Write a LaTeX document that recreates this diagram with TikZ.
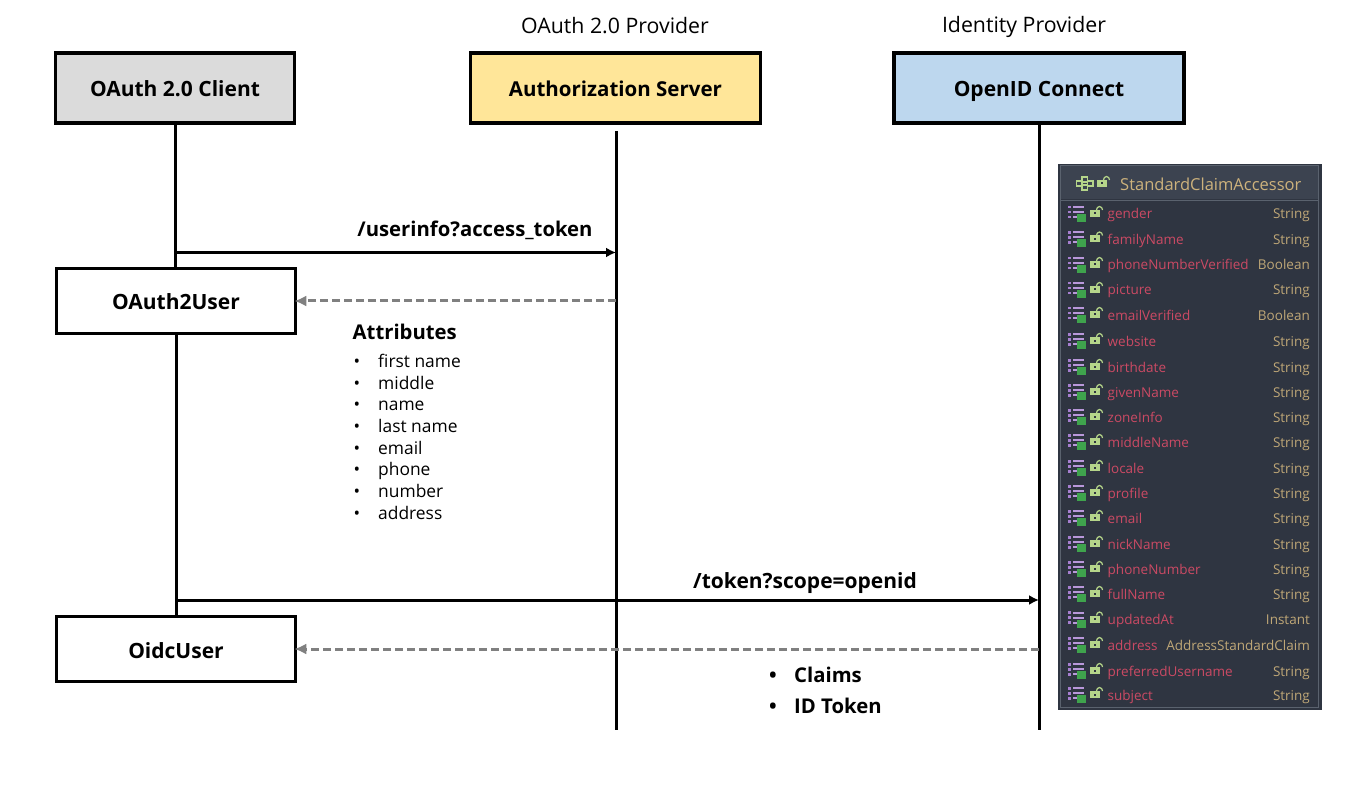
\documentclass[tikz,border=0pt]{standalone}
\usepackage{fontspec}
\setmainfont{Open Sans}
\usetikzlibrary{arrows.meta}
\definecolor{clientfill}{HTML}{DBDBDB}
\definecolor{serverfill}{HTML}{FFE699}
\definecolor{oidcfill}{HTML}{BDD7EE}
\definecolor{panelbg}{HTML}{2F3541}
\definecolor{panelhead}{HTML}{3C4350}
\definecolor{panelline}{HTML}{5A626E}
\definecolor{fieldred}{HTML}{CB4A64}
\definecolor{typetan}{HTML}{BFA777}
\definecolor{headtan}{HTML}{CDB27C}
\definecolor{lockgreen}{HTML}{B5D58A}
\definecolor{listpurple}{HTML}{A77FD0}
\definecolor{listgreen}{HTML}{3FA34D}
\tikzset{
  x=1pt,y=-1pt,
  box/.style={draw=black,line width=3.5pt,minimum height=#1,inner sep=0pt,text height=23pt,text depth=5pt,font=\fontsize{21}{27}\selectfont\bfseries,text=black},
  box/.default=70pt,
  lifeline/.style={draw=black,line width=3pt},
  callarrow/.style={draw=black,line width=3pt,-{Latex[length=10pt,width=10pt]}},
  replyarrow/.style={draw=black!50,line width=3pt,dash pattern=on 8pt off 4pt,shorten >=-3pt,-{Latex[length=12pt,width=11pt]}},
  caption/.style={font=\fontsize{21.3}{25}\selectfont,inner sep=0pt,text height=16pt,text depth=5pt},
  msg/.style={font=\fontsize{20.3}{26}\selectfont\bfseries,inner sep=0pt,text height=16pt,text depth=5pt},
  item/.style={font=\fontsize{17.4}{22}\selectfont,inner sep=0pt,anchor=west,text height=14pt,text depth=4pt},
  dotitem/.style={font=\fontsize{17.4}{22}\selectfont,inner sep=0pt,text height=14pt,text depth=4pt},
  field/.style={font=\fontsize{13.5}{16}\selectfont,text=fieldred,inner sep=0pt,anchor=west,text height=10pt,text depth=3pt},
  ftype/.style={font=\fontsize{13.5}{16}\selectfont,text=typetan,inner sep=0pt,anchor=east,text height=10pt,text depth=3pt},
}
\newcommand{\lockicon}[2]{%
  \fill[lockgreen] (#1-5.5,#2-1) rectangle (#1+4,#2+6);
  \draw[lockgreen,line width=1.2pt] (#1+1,#2-1) arc[start angle=180,end angle=0,x radius=3,y radius=-3.5];
  \fill[panelbg] (#1-1.5,#2+1.5) rectangle (#1,#2+3.5);
}
\newcommand{\listicon}[2]{%
  \foreach \d in {-6,-1,4}{
    \fill[listpurple] (#1-9,#2+\d-1.2) rectangle (#1-6,#2+\d+1.5);
    \fill[listpurple!80!white] (#1-4.5,#2+\d-1) rectangle (#1+7,#2+\d+1);
  }
  \fill[listgreen] (#1,#2+1) rectangle (#1+9,#2+9);
}
\begin{document}
\begin{tikzpicture}
\useasboundingbox (0,0) rectangle (1360,802);
% boxes
\node[box,fill=clientfill,minimum width=239pt] (client) at (175,88) {OAuth 2.0 Client};
\node[box,fill=serverfill,minimum width=290pt,font=\fontsize{20.5}{27}\selectfont\bfseries] (server) at (615.5,88) {Authorization Server};
\node[box,fill=oidcfill,minimum width=290pt] (oidc) at (1039,88) {OpenID Connect};
\node[box=65pt,fill=white,minimum width=239pt] (ouser) at (176,301) {OAuth2User};
\node[box=65pt,fill=white,minimum width=239pt] (oidcuser) at (176,649) {OidcUser};
% captions
\node[caption] (cap1) at (615,28) {OAuth 2.0 Provider};
\node[caption] (cap2) at (1024,27) {Identity Provider};
% lifeline ends
\coordinate (sTop) at (616,131);
\coordinate (sEnd) at (616,730);
\coordinate (oEnd) at (1039,730);
\coordinate (c1) at (175,252.5);
\coordinate (s1) at (616,252.5);
\coordinate (c2) at (176,600);
\coordinate (o2) at (1039,600);
\coordinate (s3) at (616,301);
\coordinate (o3) at (1039,649);
\path[lifeline] (client.south) -- (ouser.north -| client.south);
\path[lifeline] (ouser.south) -- (oidcuser.north);
\path[lifeline] (sTop) -- (sEnd);
\path[lifeline] (oidc.south) -- (oEnd);
% messages
\path[callarrow] (c1) -- (s1);
\path[replyarrow] (s3) -- (ouser.east);
\path[callarrow] (c2) -- (o2);
\path[replyarrow] (o3) -- (oidcuser.east);
\node[msg] (m1) at (475,231) {/userinfo?access\_token};
\node[msg,font=\fontsize{21}{26}\selectfont\bfseries] (m2) at (805,583) {/token?scope=openid};
% attributes
\node[msg,anchor=west] (attr) at (352.5,334) {Attributes};
\foreach \t/\y in {first name/362.5,middle/384,name/405.5,last name/427.5,email/449.5,phone/470.5,number/492.5,address/514.5}{
  \node[item] at (378,\y) {\t};
  \node[dotitem] at (357,\y) {•};
}
\node[msg,anchor=west] (cl) at (794,677) {Claims};
\node[msg,anchor=west] (idt) at (794,708) {ID Token};
\node[msg] at (773,677) {•};
\node[msg] at (773,708) {•};
% panel
\fill[panelbg] (1058,164) rectangle (1322,710);
\draw[panelline,line width=1pt] (1060.5,166) rectangle (1318.5,707.5);
\fill[panelhead] (1061,166.5) rectangle (1318,199.5);
\draw[panelline,line width=.8pt] (1061,200) -- (1318,200);
\draw[lockgreen,line width=1.3pt] (1076.5,181) rectangle (1082,186);
\draw[lockgreen,line width=1.3pt] (1082,177) rectangle (1087.5,182);
\draw[lockgreen,line width=1.3pt] (1087.5,181) rectangle (1093,186);
\draw[lockgreen,line width=1.3pt] (1082,185) rectangle (1087.5,190);
\lockicon{1102.5}{181}
\node[font=\fontsize{16.5}{20}\selectfont,text=headtan,inner sep=0pt,anchor=west,text height=12pt,text depth=4pt] (pt) at (1120,186.5) {StandardClaimAccessor};
\foreach \n/\t/\y in {gender/String/214,familyName/String/239.5,phoneNumberVerified/Boolean/265,picture/String/290,emailVerified/Boolean/315,website/String/341,birthdate/String/367,givenName/String/392,zoneInfo/String/417,middleName/String/442,locale/String/468,profile/String/493,email/String/518,nickName/String/544,phoneNumber/String/569,fullName/String/594,updatedAt/Instant/619.5,address/AddressStandardClaim/645,preferredUsername/String/671,subject/String/695}{
  \listicon{1077}{\y-1}
  \lockicon{1095.5}{\y-3}
  \node[field] at (1107.5,\y+1.5) {\n};
  \node[ftype] at (1310,\y+1.5) {\t};
}
\end{tikzpicture}
\end{document}
